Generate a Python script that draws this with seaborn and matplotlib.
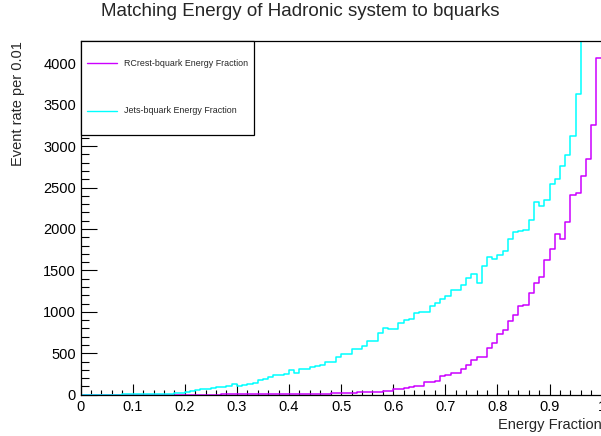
import numpy as np
import pandas as pd
import matplotlib
matplotlib.use("Agg")
import matplotlib.pyplot as plt
from matplotlib.patches import Rectangle
from matplotlib.lines import Line2D
from matplotlib.ticker import FixedLocator, MultipleLocator
import seaborn as sns

# ---- data: 100 bins of width 0.01 over [0, 1] ----
bin_width = 0.01
n_bins = 100

rcrest_counts = [
    0, 0, 0, 0, 0, 0, 0, 0, 0, 0,
    0, 0, 0, 0, 0, 0, 0, 1, 1, 1,
    1, 1, 1, 2, 2, 2, 2, 3, 3, 3,
    3, 3, 4, 4, 4, 5, 5, 6, 6, 7,
    7, 8, 8, 8, 8, 10, 10, 11, 15, 16,
    18, 20, 25, 28, 30, 30, 36, 38, 44, 50,
    66, 70, 85, 90, 105, 105, 153, 155, 165, 225,
    233, 265, 265, 305, 358, 418, 458, 458, 567, 627,
    732, 776, 886, 963, 1065, 1081, 1222, 1343, 1423, 1624,
    1753, 1934, 1873, 2078, 2408, 2428, 2641, 2850, 3252, 4068,
]

jets_counts = [
    0, 0, 0, 1, 1, 1, 2, 2, 3, 3,
    4, 5, 6, 7, 9, 11, 12, 14, 20, 24,
    35, 50, 55, 63, 72, 84, 90, 97, 100, 133,
    105, 113, 125, 137, 181, 190, 217, 233, 240, 250,
    301, 262, 310, 313, 330, 352, 358, 394, 398, 450,
    494, 488, 549, 549, 585, 643, 649, 750, 800, 788,
    788, 868, 906, 910, 981, 1003, 1003, 1065, 1107, 1150,
    1196, 1260, 1260, 1319, 1403, 1455, 1353, 1548, 1666, 1634,
    1682, 1731, 1879, 1966, 1974, 1986, 2102, 2320, 2279, 2352,
    2537, 2601, 2762, 2898, 3120, 3626, 4650, 5300, 6100, 7000,
]

series_names = ["RCrest-bquark Energy Fraction", "Jets-bquark Energy Fraction"]
series_colors = ["#cc00ff", "#00ffff"]

x_ticks = [0.0, 0.1, 0.2, 0.3, 0.4, 0.5, 0.6, 0.7, 0.8, 0.9, 1.0]
x_tick_labels = ["0", "0.1", "0.2", "0.3", "0.4", "0.5", "0.6", "0.7", "0.8", "0.9", "1"]
y_ticks = [0, 500, 1000, 1500, 2000, 2500, 3000, 3500, 4000]
y_tick_labels = [str(v) for v in y_ticks]

title = "Matching Energy of Hadronic system to bquarks"
x_title = "Energy Fraction"
y_title = "Event rate per 0.01"

# ---- long-form table for seaborn ----
centers = (np.arange(n_bins) + 0.5) * bin_width
df = pd.concat([
    pd.DataFrame({"frac": centers, "count": rcrest_counts, "series": series_names[0]}),
    pd.DataFrame({"frac": centers, "count": jets_counts, "series": series_names[1]}),
], ignore_index=True)

sns.set_style("ticks")
plt.rcParams["font.family"] = ["Liberation Sans", "DejaVu Sans"]

W, H = 601, 436
fig = plt.figure(figsize=(W / 100, H / 100), dpi=100)
ax_l, ax_r, ax_t, ax_b = 80.6, 601.6, 40.7, 394.7
ax = fig.add_axes([ax_l / W, 1 - ax_b / H, (ax_r - ax_l) / W, (ax_b - ax_t) / H])
ax.set_facecolor("white")

for name, color in zip(series_names, series_colors):
    sub = df[df["series"] == name]
    sns.histplot(data=sub, x="frac", weights="count", binwidth=bin_width,
                 binrange=(0.0, 1.0), element="step", fill=False,
                 color=color, linewidth=1.1, ax=ax)

ax.set_xlim(0, 1)
ax.set_ylim(0, 1.05 * max(rcrest_counts))

ax.xaxis.set_major_locator(FixedLocator(x_ticks))
ax.set_xticklabels(x_tick_labels)
ax.xaxis.set_minor_locator(MultipleLocator(0.02))
ax.yaxis.set_major_locator(FixedLocator(y_ticks))
ax.set_yticklabels(y_tick_labels)
ax.yaxis.set_minor_locator(MultipleLocator(100))

ax.tick_params(axis="both", which="both", direction="in", colors="black",
               width=0.8, labelsize=10.5, top=False, right=False)
ax.tick_params(axis="x", which="major", length=7.6, pad=3.5)
ax.tick_params(axis="x", which="minor", length=3.8)
ax.tick_params(axis="y", which="major", length=11.2, pad=3.3)
ax.tick_params(axis="y", which="minor", length=5.6)

for sp in ax.spines.values():
    sp.set_visible(True)
    sp.set_color("black")
    sp.set_linewidth(0.9)

ax.set_xlabel(x_title, fontsize=10.5, ha="right", va="center")
ax.xaxis.set_label_coords(1.0, (ax_b - 425) / (ax_b - ax_t))
ax.set_ylabel(y_title, fontsize=10.5, ha="right", va="center")
ax.yaxis.set_label_coords((18 - ax_l) / (ax_r - ax_l), 1.0)

fig.text(0.5, 1 - 12 / H, title, ha="center", va="center", fontsize=13.5)

# ---- legend box ----
aw, ah = ax_r - ax_l, ax_b - ax_t
def axx(px):
    return (px - ax_l) / aw
def axy(py):
    return (ax_b - py) / ah

box = Rectangle((axx(ax_l), axy(135)), axx(254.3), 1 - axy(135),
                transform=ax.transAxes, facecolor="white", edgecolor="black",
                linewidth=0.9, zorder=5, clip_on=False)
ax.add_patch(box)
for name, color, py in zip(series_names, series_colors, [63.3, 110.7]):
    ax.add_line(Line2D([axx(87), axx(117)], [axy(py), axy(py)], color=color,
                       linewidth=1.0, transform=ax.transAxes, zorder=6))
    ax.text(axx(124), axy(py), name, transform=ax.transAxes, fontsize=6.4,
            ha="left", va="center", zorder=6)

fig.savefig("out.png", dpi=100)
